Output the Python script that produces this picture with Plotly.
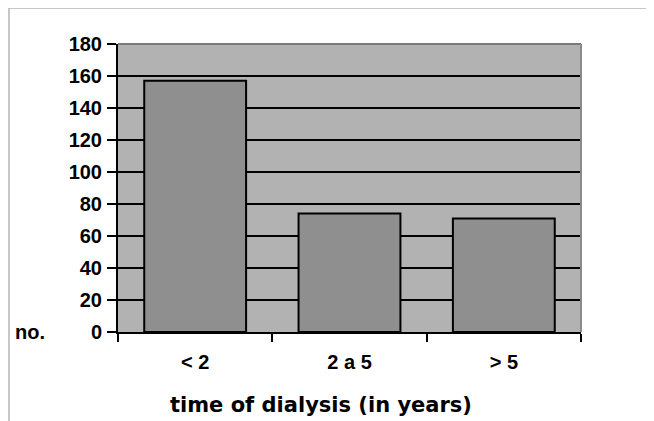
import plotly.graph_objects as go

categories = ["< 2", "2 a 5", "> 5"]
counts = [157, 74, 71]
y_ticks = [0, 20, 40, 60, 80, 100, 120, 140, 160, 180]

# the page body adds an 8px offset; work in window pixels and shift
OFF = 8
W, H = 654 - OFF, 421 - OFF
L, R, T, B = 118 - OFF, 581 - OFF, 44 - OFF, 332 - OFF

def px_x(px):
    return (px - OFF - L) / (R - L)

def px_y(py):
    return (B - (py - OFF)) / (B - T)

fig = go.Figure()
fig.add_trace(go.Bar(
    x=categories, y=counts,
    marker=dict(color="#8f8f8f", line=dict(color="black", width=2)),
))

tick_font = dict(family="Liberation Sans, Arial, sans-serif", size=20, color="black", weight="bold")

fig.update_layout(
    width=W, height=H,
    margin=dict(l=L, r=W - R, t=T, b=H - B, pad=0),
    paper_bgcolor="white",
    plot_bgcolor="#b2b2b2",
    bargap=0.34,
    showlegend=False,
    xaxis=dict(
        showline=True, linecolor="black", linewidth=2,
        ticks="outside", tickson="boundaries", ticklen=8, tickwidth=2, tickcolor="black",
        tickfont=tick_font, ticklabelstandoff=11,
        showgrid=False,
    ),
    yaxis=dict(
        range=[0, 180], tickvals=y_ticks,
        showline=True, linecolor="black", linewidth=2,
        ticks="outside", ticklen=9, tickwidth=2, tickcolor="black",
        tickfont=tick_font, ticklabelstandoff=1,
        showgrid=True, gridcolor="black", gridwidth=2,
        zeroline=False,
    ),
    shapes=[
        dict(type="line", xref="paper", yref="paper", x0=0, x1=1, y0=1, y1=1,
             line=dict(color="#7a7a7a", width=2), layer="above"),
        dict(type="line", xref="paper", yref="paper", x0=1, x1=1, y0=0, y1=1,
             line=dict(color="#8a8a8a", width=2), layer="above"),
        dict(type="line", xref="paper", yref="paper", x0=px_x(9), x1=px_x(660),
             y0=px_y(8), y1=px_y(8), line=dict(color="#b5b5b5", width=1.5)),
        dict(type="line", xref="paper", yref="paper", x0=px_x(9), x1=px_x(9),
             y0=px_y(8), y1=px_y(430), line=dict(color="#b5b5b5", width=1.5)),
    ],
    annotations=[
        dict(text="no.", xref="paper", yref="y", x=px_x(47), y=0,
             xanchor="right", yanchor="middle", showarrow=False, font=tick_font),
        dict(text="time of dialysis (in years)", xref="paper", yref="paper",
             x=px_x(321), y=px_y(405), xanchor="center", yanchor="middle", showarrow=False,
             font=dict(family="DejaVu Sans, Verdana, sans-serif", size=21, color="black",
                       weight="bold")),
    ],
)

fig.write_html("out.html")
